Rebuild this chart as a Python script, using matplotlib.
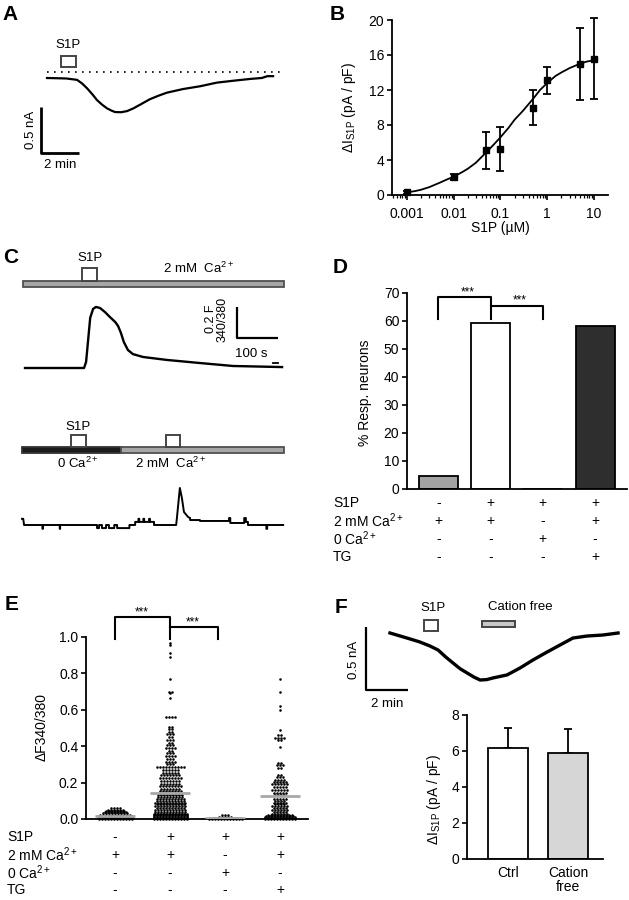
import matplotlib
matplotlib.use('Agg')
import matplotlib.pyplot as plt
from matplotlib.patches import Rectangle
from matplotlib.transforms import blended_transform_factory

# ---------------- data ----------------
# Panel A trace (time in min, current in nA)
A_t = [0, 1.0, 1.58, 1.85, 2.1, 2.4, 2.63, 2.9, 3.16, 3.4, 3.58, 3.9, 4.21, 4.55, 4.9, 5.42, 5.9, 6.3, 7.16, 8.05, 8.95, 9.8, 10.7, 11.3, 11.6, 11.9]
A_I = [0, -0.005, -0.02, -0.06, -0.11, -0.18, -0.24, -0.29, -0.33, -0.355, -0.37, -0.372, -0.36, -0.33, -0.29, -0.23, -0.19, -0.16, -0.12, -0.09, -0.05, -0.03, -0.01, 0.0, 0.02, 0.02]

# Panel B dose-response
B_conc = [0.001, 0.01, 0.05, 0.1, 0.5, 1, 5, 10]
B_resp = [0.3, 2.1, 5.1, 5.3, 10.0, 13.1, 15.0, 15.6]
B_err = [0.15, 0.35, 2.15, 2.5, 2.0, 1.5, 4.1, 4.6]
B_fit_x = [0.001, 0.0015, 0.002, 0.003, 0.005, 0.007, 0.01, 0.015, 0.02, 0.03, 0.05, 0.07, 0.1, 0.15, 0.2, 0.3, 0.5, 0.7, 1, 1.5, 2, 3, 5, 7, 10]
B_fit_y = [0.3, 0.45, 0.6, 0.9, 1.4, 1.75, 2.1, 2.6, 3.0, 3.7, 4.9, 5.7, 6.6, 7.7, 8.6, 9.6, 11.0, 12.0, 12.8, 13.6, 14.0, 14.5, 15.0, 15.25, 15.4]

# Panel C traces (time in s, dF340/380)
C1_t = [0, 144, 149, 154, 159, 166, 173, 183, 195, 207, 220, 227, 234, 241, 251, 263, 288, 346, 427, 507, 627]
C1_v = [0, 0, 0.039, 0.181, 0.323, 0.381, 0.394, 0.387, 0.361, 0.329, 0.297, 0.271, 0.226, 0.168, 0.116, 0.090, 0.071, 0.052, 0.032, 0.013, 0.006]
C2_t = [0, 3, 5, 50, 50, 51, 51, 92, 92, 93, 93, 183, 183, 188, 188, 195, 195, 205, 205, 212, 212,
        225, 225, 232, 232, 262, 262, 276, 276, 284, 284, 286, 286, 296, 296, 298, 298, 310, 310,
        312, 312, 322, 322, 376, 378, 385, 390, 395, 405, 410, 410, 434, 434, 505, 505, 508, 508,
        542, 542, 546, 546, 551, 551, 596, 596, 598, 598, 637]
C2_v = [0.04, 0.04, 0.0, 0.0, -0.025, -0.025, 0.0, 0.0, -0.025, -0.025, 0.0, 0.0, -0.02, -0.02, 0.0,
        0.0, -0.02, -0.02, 0.0, 0.0, -0.02, -0.02, 0.0, 0.0, -0.02, -0.02, 0.0, 0.0, 0.02, 0.02,
        0.04, 0.04, 0.02, 0.02, 0.04, 0.04, 0.02, 0.02, 0.04, 0.04, 0.02, 0.02, 0.0, 0.0, 0.05,
        0.239, 0.174, 0.084, 0.052, 0.045, 0.032, 0.032, 0.026, 0.026, 0.045, 0.045, 0.013, 0.013,
        0.045, 0.045, 0.02, 0.02, 0.0, 0.0, -0.025, -0.025, 0.0, 0.0]

# Panel D
D_vals = [4.6, 59.3, 0.0, 58.2]
D_colors = ['#a3a3a3', 'white', 'white', '#2e2e2e']
table_rows = ['S1P', '2 mM Ca$^{2+}$', '0 Ca$^{2+}$', 'TG']
table_signs = [['-', '+', '+', '+'],
               ['+', '+', '-', '+'],
               ['-', '-', '+', '-'],
               ['-', '-', '-', '+']]

# Panel E: (value, count) levels per group
E_g1 = [(0.0, 12), (0.006, 12), (0.012, 12), (0.018, 12), (0.024, 11), (0.031, 9), (0.038, 8),
        (0.045, 7), (0.052, 6), (0.058, 4)]
E_g2 = [(0.0, 12), (0.005, 12), (0.01, 12), (0.015, 12), (0.02, 12), (0.025, 12), (0.03, 11),
        (0.04, 11), (0.05, 11), (0.06, 10), (0.07, 11), (0.08, 10), (0.09, 11), (0.1, 10),
        (0.11, 10), (0.12, 9), (0.13, 9), (0.14, 8),
        (0.152, 8), (0.165, 7), (0.18, 8), (0.195, 7), (0.21, 7), (0.225, 8), (0.24, 7),
        (0.255, 6), (0.27, 6), (0.285, 10),
        (0.30, 3), (0.315, 4), (0.33, 3), (0.345, 4), (0.36, 3), (0.375, 2), (0.39, 4),
        (0.405, 3), (0.42, 2), (0.435, 3), (0.45, 2), (0.465, 3), (0.48, 2), (0.495, 2),
        (0.505, 2), (0.56, 4), (0.665, 1), (0.69, 1), (0.70, 2), (0.77, 1), (0.89, 1),
        (0.91, 1), (0.955, 1), (0.965, 1)]
E_g3 = [(0.0, 12), (0.004, 11), (0.008, 8), (0.013, 5), (0.02, 3)]
E_g4 = [(0.0, 11), (0.005, 11), (0.01, 11), (0.015, 10), (0.02, 9),
        (0.03, 6), (0.04, 5), (0.05, 6), (0.06, 5), (0.07, 6), (0.08, 4), (0.09, 5), (0.1, 4),
        (0.11, 5), (0.13, 4), (0.145, 5), (0.16, 6), (0.175, 5), (0.19, 6), (0.205, 5),
        (0.215, 4), (0.23, 3), (0.24, 2), (0.28, 2), (0.295, 3), (0.31, 2), (0.395, 1),
        (0.435, 2), (0.445, 4), (0.46, 2), (0.49, 1), (0.60, 1), (0.62, 1), (0.70, 1), (0.77, 1)]
E_groups = [E_g1, E_g2, E_g3, E_g4]
E_means = [0.014, 0.145, 0.003, 0.124]

# Panel F trace (min, nA) and bars
F_t = [0, 0.81, 1.4, 1.9, 2.29, 2.65, 3.0, 3.35, 3.67, 4.0, 4.29, 4.6, 4.9, 5.57, 6.19, 6.81, 7.48, 8.1, 8.71, 9.38, 10.14, 10.86]
F_I = [0, -0.04, -0.07, -0.103, -0.135, -0.19, -0.238, -0.285, -0.317, -0.35, -0.373, -0.37, -0.357, -0.333, -0.278, -0.214, -0.151, -0.095, -0.04, -0.024, -0.016, 0.0]
F_labels = ['Ctrl', 'Cation\nfree']
F_vals = [6.17, 5.9]
F_err = [1.1, 1.35]
F_colors = ['white', '#d6d6d6']

# ---------------- style ----------------
plt.rcParams['font.family'] = ['Liberation Sans', 'DejaVu Sans']
plt.rcParams['mathtext.fontset'] = 'custom'
plt.rcParams['mathtext.rm'] = 'Liberation Sans'
plt.rcParams['mathtext.it'] = 'Liberation Sans:italic'
plt.rcParams['mathtext.bf'] = 'Liberation Sans:bold'
plt.rcParams['font.size'] = 10
plt.rcParams['axes.linewidth'] = 1.3

W, H = 629, 900
fig = plt.figure(figsize=(W / 100, H / 100), dpi=100)


def ax_px(x0, y0, x1, y1):
    return fig.add_axes([x0 / W, 1 - y1 / H, (x1 - x0) / W, (y1 - y0) / H])


def trace_ax(box, ox, oy, sx, sy):
    x0, y0, x1, y1 = box
    ax = ax_px(*box)
    ax.set_xlim((x0 - ox) / sx, (x1 - ox) / sx)
    ax.set_ylim((oy - y1) / sy, (oy - y0) / sy)
    ax.axis('off')
    return ax


def box(ax, x0, x1, y0, y1, fc='white', ec='#444444', lw=1.4, z=3):
    ax.add_patch(Rectangle((x0, y0), x1 - x0, y1 - y0, facecolor=fc, edgecolor=ec, lw=lw,
                           zorder=z, clip_on=False))


def style_axes(ax):
    for s in ['top', 'right']:
        ax.spines[s].set_visible(False)
    ax.tick_params(direction='out', length=3.5, width=1.2, labelsize=10, pad=2)


def panel_label(txt, x, y):
    fig.text(x / W, 1 - y / H, txt, fontsize=15, fontweight='bold', va='baseline', ha='left')


def draw_table(ax, label_x, rows_y):
    tr = blended_transform_factory(ax.transData, fig.transFigure)
    for r, (lab, yy) in enumerate(zip(table_rows, rows_y)):
        fig.text(label_x / W, 1 - yy / H, lab, fontsize=10, va='center', ha='left')
        for c in range(4):
            ax.text(c, 1 - yy / H, table_signs[r][c], transform=tr, fontsize=10,
                    ha='center', va='center')


# ---------------- Panel A ----------------
panel_label('A', 2, 20)
axA = trace_ax((20, 30, 300, 175), 47, 78, 19.0, 92.0)
axA.plot(A_t, A_I, color='k', lw=1.6)
axA.plot([0, 12.3], [0.065, 0.065], color='k', lw=1.2, ls=(0, (1, 3.2)))
box(axA, 0.74, 1.53, 0.12, 0.24)
axA.text(1.1, 0.36, 'S1P', ha='center', va='center', fontsize=9.5)
axA.plot([-0.32, -0.32, 1.68], [-0.315, -0.815, -0.815], color='k', lw=2, solid_capstyle='butt')
axA.text(-0.86, -0.565, '0.5 nA', rotation=90, ha='center', va='center', fontsize=9.5)
axA.text(0.68, -0.95, '2 min', ha='center', va='center', fontsize=9.5)

# ---------------- Panel B ----------------
panel_label('B', 330, 20)
axB = ax_px(392, 20, 608, 195)
axB.set_xscale('log')
axB.plot(B_fit_x, B_fit_y, color='k', lw=1.3, zorder=2)
axB.errorbar(B_conc, B_resp, yerr=B_err, fmt='s', color='k', ms=5, capsize=3,
             elinewidth=1.3, capthick=1.3, zorder=3, clip_on=False)
axB.set_xlim(10 ** -3.32, 10 ** 1.30)
axB.set_ylim(0, 20)
axB.set_yticks([0, 4, 8, 12, 16, 20])
axB.set_xticks([0.001, 0.01, 0.1, 1, 10])
axB.set_xticklabels(['0.001', '0.01', '0.1', '1', '10'])
style_axes(axB)
axB.tick_params(axis='x', pad=5)
axB.tick_params(which='minor', direction='out', length=2, width=0.9)
axB.set_xlabel('S1P (µM)', fontsize=10)
axB.xaxis.set_label_coords(0.5, -0.148)
axB.set_ylabel('ΔI$_{\\mathrm{S1P}}$ (pA / pF)', fontsize=10)
axB.yaxis.set_label_coords(-0.157, 0.5)

# ---------------- Panel C ----------------
panel_label('C', 3, 263)
axC1 = trace_ax((15, 240, 300, 380), 25, 368, 0.41, 155.0)
box(axC1, -4.9, 632, 0.523, 0.561, fc='#a6a6a6', ec='#505050', lw=1.3)
box(axC1, 139, 176, 0.561, 0.645)
axC1.text(158.5, 0.71, 'S1P', ha='center', va='center', fontsize=9.5)
axC1.text(424, 0.64, '2 mM  Ca$^{2+}$', ha='center', va='center', fontsize=9.5)
axC1.plot(C1_t, C1_v, color='k', lw=1.7)
axC1.plot([605, 617], [0.032, 0.032], color='k', lw=1.3)
axC1.plot([517, 517, 617], [0.394, 0.194, 0.194], color='k', lw=1.6, solid_capstyle='butt')
axC1.text(468, 0.316, '0.2 F\n340/380', rotation=90, ha='center', va='center', fontsize=9,
          linespacing=0.95, multialignment='center')
axC1.text(553, 0.09, '100 s', ha='center', va='center', fontsize=9.5)

axC2 = trace_ax((15, 400, 300, 540), 22, 525, 0.41, 155.0)
box(axC2, 0, 241, 0.465, 0.503, fc='#1c1c1c', ec='#333333', lw=1.3)
box(axC2, 241, 639, 0.465, 0.503, fc='#a6a6a6', ec='#505050', lw=1.3)
box(axC2, 120, 156, 0.503, 0.58)
box(axC2, 351, 385, 0.503, 0.58)
axC2.text(137, 0.632, 'S1P', ha='center', va='center', fontsize=9.5)
axC2.text(137, 0.40, '0 Ca$^{2+}$', ha='center', va='center', fontsize=9.5)
axC2.text(363, 0.40, '2 mM  Ca$^{2+}$', ha='center', va='center', fontsize=9.5)
axC2.plot(C2_t, C2_v, color='k', lw=1.4)

# ---------------- Panel D ----------------
panel_label('D', 333, 273)
axD = ax_px(407, 293, 627, 489)
D_pos = list(range(len(D_vals)))
axD.bar(D_pos, D_vals, width=0.75, color=D_colors, edgecolor='k', lw=1.3, zorder=2)
axD.set_xlim(-0.6, 3.61)
axD.set_ylim(0, 70)
axD.set_yticks(range(0, 71, 10))
axD.set_xticks([])
style_axes(axD)
axD.set_ylabel('% Resp. neurons', fontsize=10)
axD.yaxis.set_label_coords(-0.159, 0.49)
axD.plot([0, 0, 1, 1], [60.7, 68.6, 68.6, 60.7], color='k', lw=1.5, clip_on=False)
axD.plot([1, 2, 2], [65.4, 65.4, 60.7], color='k', lw=1.5, clip_on=False)
axD.text(0.57, 70.2, '***', ha='center', va='center', fontsize=8.5)
axD.text(1.55, 67.2, '***', ha='center', va='center', fontsize=8.5)
draw_table(axD, 333, [503, 521, 539, 557])

# ---------------- Panel E ----------------
panel_label('E', 5, 610)
axE = ax_px(86, 637, 308, 819)
dx = 3.0 / 55.0
for gi, levels in enumerate(E_groups):
    xs, ys = [], []
    for v, n in levels:
        for i in range(n):
            xs.append(gi + (i - (n - 1) / 2) * dx)
            ys.append(v)
    axE.scatter(xs, ys, s=3.4, c='k', linewidths=0, clip_on=False, zorder=3)
    axE.hlines(E_means[gi], gi - 0.36, gi + 0.36, color='#a8a8a8', lw=2, zorder=4)
axE.set_xlim(-0.53, 3.51)
axE.set_ylim(0, 1.0)
axE.set_yticks([0, 0.2, 0.4, 0.6, 0.8, 1.0])
axE.set_yticklabels(['0.0', '0.2', '0.4', '0.6', '0.8', '1.0'])
axE.set_xticks([])
style_axes(axE)
axE.set_ylabel('ΔF340/380', fontsize=10)
axE.yaxis.set_label_coords(-0.167, 0.505)
axE.plot([0, 0, 1, 1], [0.99, 1.11, 1.11, 0.99], color='k', lw=1.5, clip_on=False)
axE.plot([1, 1.87, 1.87], [1.055, 1.055, 0.99], color='k', lw=1.5, clip_on=False)
axE.text(0.49, 1.135, '***', ha='center', va='center', fontsize=8.5)
axE.text(1.42, 1.08, '***', ha='center', va='center', fontsize=8.5)
draw_table(axE, 7, [837, 855, 873, 890])

# ---------------- Panel F ----------------
panel_label('F', 335, 613)
axF1 = trace_ax((340, 595, 629, 715), 390, 633, 21.0, 126.0)
axF1.plot(F_t, F_I, color='k', lw=2.4)
box(axF1, 1.62, 2.29, 0.016, 0.103)
axF1.text(2.05, 0.20, 'S1P', ha='center', va='center', fontsize=9.5)
box(axF1, 4.38, 5.95, 0.048, 0.095, fc='#c8c8c8')
axF1.text(6.19, 0.21, 'Cation free', ha='center', va='center', fontsize=9.5)
axF1.plot([-1.14, -1.14, 0.857], [0.048, -0.452, -0.452], color='k', lw=1.6, solid_capstyle='butt')
axF1.text(-1.72, -0.214, '0.5 nA', rotation=90, ha='center', va='center', fontsize=9.5)
axF1.text(-0.14, -0.56, '2 min', ha='center', va='center', fontsize=9.5)

axF = ax_px(467, 715, 603, 859)
F_pos = list(range(len(F_vals)))
axF.bar(F_pos, F_vals, width=0.67, color=F_colors, edgecolor='k', lw=1.3, zorder=2)
axF.errorbar(F_pos, F_vals, yerr=[[0, 0], F_err], fmt='none', ecolor='k', elinewidth=1.3,
             capsize=3, capthick=1.3, zorder=1)
axF.set_xlim(-0.68, 1.58)
axF.set_ylim(0, 8)
axF.set_yticks([0, 2, 4, 6, 8])
axF.set_xticks(F_pos)
axF.set_xticklabels(F_labels, fontsize=10, linespacing=1.0)
style_axes(axF)
axF.tick_params(axis='x', length=0, pad=5)
axF.set_ylabel('ΔI$_{\\mathrm{S1P}}$ (pA / pF)', fontsize=10)
axF.yaxis.set_label_coords(-0.176, 0.41)

fig.savefig('out.png', dpi=100)
